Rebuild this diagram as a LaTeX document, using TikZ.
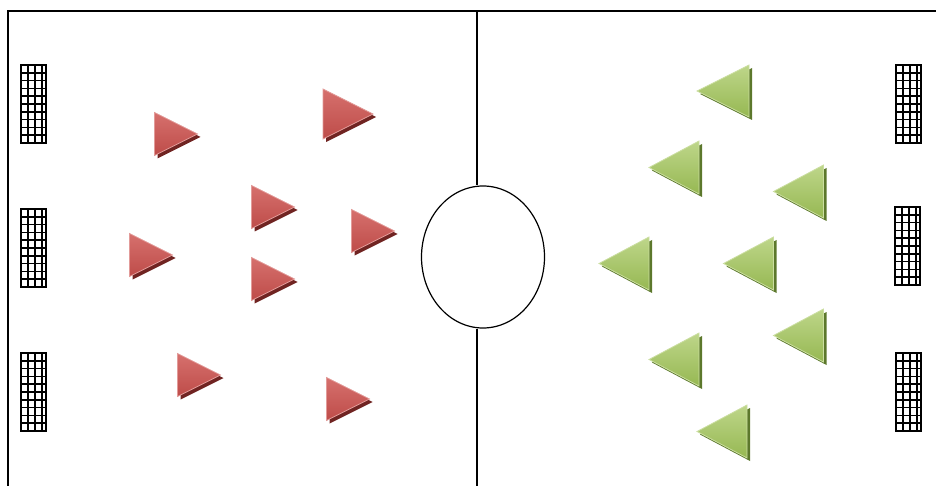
\documentclass[tikz,border=0pt]{standalone}
\usetikzlibrary{shapes.geometric}
\definecolor{redfill}{RGB}{190,76,73}
\definecolor{redlight}{RGB}{214,112,109}
\definecolor{redshadow}{RGB}{112,36,34}
\definecolor{greenfill}{RGB}{150,184,82}
\definecolor{greenlight}{RGB}{190,214,138}
\definecolor{greenshadow}{RGB}{92,120,44}

\begin{document}
\begin{tikzpicture}[x=1pt, y=-1pt]
  \tikzset{
    fieldline/.style={line width=1.6pt},
    goalnet/.style={line width=1.5pt},
    % attacking to the right
    pics/redplayer/.style 2 args={code={
      \fill[redshadow] (-#1/2+3,-#2/2+3) -- (#1/2+3,3) -- (-#1/2+3,#2/2+3) -- cycle;
      \shade[top color=redlight, bottom color=redfill, draw=redlight!70!white, line width=0.8pt]
        (-#1/2,-#2/2) -- (#1/2,0) -- (-#1/2,#2/2) -- cycle;
    }},
    % attacking to the left
    pics/greenplayer/.style 2 args={code={
      \fill[greenshadow] (#1/2+3,-#2/2+3) -- (-#1/2+3,3) -- (#1/2+3,#2/2+3) -- cycle;
      \shade[top color=greenlight, bottom color=greenfill, draw=greenlight!80!white, line width=0.8pt]
        (#1/2,-#2/2) -- (-#1/2,0) -- (#1/2,#2/2) -- cycle;
    }},
    pics/goal/.style={code={
      \foreach \gx in {1,2,3}
        \draw[goalnet] (\gx*7,0) -- (\gx*7,78);
      \foreach \gy in {1,...,9}
        \draw[goalnet] (0,\gy*7.8) -- (25,\gy*7.8);
      \draw[fieldline] (0,0) rectangle (25,78);
    }}
  }
  \useasboundingbox (0,0) rectangle (936,486);

  % pitch
  \draw[fieldline] (936,11) -- (8,11) -- (8,486);
  \node[draw, ellipse, line width=1.2pt, minimum width=123pt, minimum height=142pt, inner sep=0pt]
    (kickoff) at (483,257) {};
  \coordinate (midtop) at (477,11);
  \coordinate (midbottom) at (477,486);
  \draw[fieldline] (midtop) -- (midtop |- kickoff.north);
  \draw[fieldline] (midbottom) -- (midbottom |- kickoff.south);

  % goals
  \pic at (21,65) {goal};
  \pic at (21,209) {goal};
  \pic at (21,353) {goal};
  \pic at (896,65) {goal};
  \pic at (895,207) {goal};
  \pic at (896,353) {goal};

  % red team
  \foreach \px/\py/\pw in {176/134/43, 348/114/50, 273/207/43, 373/231/43,
                           151/255/43, 273/279/43, 199/375/43, 348/399/43}
    \pic at (\px,\py) {redplayer={\pw}{\pw}};

  % green team
  \pic at (723,91) {greenplayer={52}{52}};
  \foreach \px/\py in {674/167.5, 798.5/191.5, 624/263.5, 748.5/263.5,
                       798.5/335.5, 674/359.5, 722/431.5}
    \pic at (\px,\py) {greenplayer={50}{53}};
\end{tikzpicture}
\end{document}
